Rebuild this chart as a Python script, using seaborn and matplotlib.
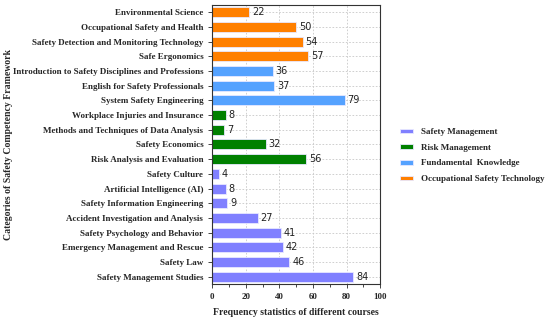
import pandas as pd
import numpy as np
import matplotlib.pyplot as plt
from matplotlib.ticker import MultipleLocator
import seaborn as sns

# Kurse von oben nach unten
courses = [
    'Environmental Science', 'Occupational Safety and Health',
    'Safety Detection and Monitoring Technology', 'Safe Ergonomics',
    'Introduction to Safety Disciplines and Professions', 'English for Safety Professionals',
    'System Safety Engineering', 'Workplace Injuries and Insurance',
    'Methods and Techniques of Data Analysis', 'Safety Economics',
    'Risk Analysis and Evaluation', 'Safety Culture', 'Artificial Intelligence (AI)',
    'Safety Information Engineering', 'Accident Investigation and Analysis',
    'Safety Psychology and Behavior', 'Emergency Management and Rescue',
    'Safety Law', 'Safety Management Studies',
]
counts = [22, 50, 54, 57, 36, 37, 79, 8, 7, 32, 56, 4, 8, 9, 27, 41, 42, 46, 84]
groups = (['Occupational Safety Technology'] * 4 + ['Fundamental  Knowledge'] * 3
          + ['Risk Management'] * 4 + ['Safety Management'] * 8)
group_order = ['Safety Management', 'Risk Management', 'Fundamental  Knowledge',
               'Occupational Safety Technology']
palette = ['#8080ff', '#008000', '#55a2ff', '#ff8000']

df = pd.DataFrame({'course': courses, 'count': counts, 'group': groups})

sns.set_style('ticks')
plt.rcParams['font.family'] = ['Liberation Serif', 'DejaVu Serif']

fig = plt.figure(figsize=(5.5, 3.21), dpi=100)
ax = fig.add_axes([0.386, 0.115, 0.305, 0.87])

sns.barplot(data=df, x='count', y='course', hue='group', hue_order=group_order,
            palette=palette, saturation=1, dodge=False, width=0.68, order=courses,
            edgecolor='#e8e8ff', linewidth=0.6, ax=ax)

# Gitter erst nach barplot, sonst schaltet seaborn die y-Linien ab
ax.set_axisbelow(True)
ax.grid(True, axis='both', linestyle=(0, (2, 2)), color='#c8c8c8', linewidth=0.6)

for c in ax.containers:
    ax.bar_label(c, padding=2, fontsize=7, family='DejaVu Sans', color='#222222')

ax.set_xlim(0, 100)
ax.xaxis.set_major_locator(MultipleLocator(20))
ax.xaxis.set_minor_locator(MultipleLocator(10))
ax.tick_params(axis='both', labelsize=6.5, length=3, width=0.6)
ax.tick_params(axis='x', which='minor', length=2, width=0.6)
for lbl in ax.get_xticklabels() + ax.get_yticklabels():
    lbl.set_fontweight('bold')
for s in ax.spines.values():
    s.set_linewidth(0.8)
    s.set_color('#333333')

ax.set_xlabel('Frequency statistics of different courses', fontsize=7,
              fontweight='bold')
ax.xaxis.set_label_coords(0.5, -0.085)
ax.set_ylabel('Categories of Safety Competency Framework', fontsize=7,
              fontweight='bold')
ax.yaxis.set_label_coords(-1.19, 0.5)

ax.legend(loc='center left', bbox_to_anchor=(1.07, 0.46), frameon=False,
          prop={'size': 6.5, 'weight': 'bold'}, handlelength=1.5, handleheight=0.4,
          labelspacing=0.85)

plt.savefig('out.png', dpi=100)
